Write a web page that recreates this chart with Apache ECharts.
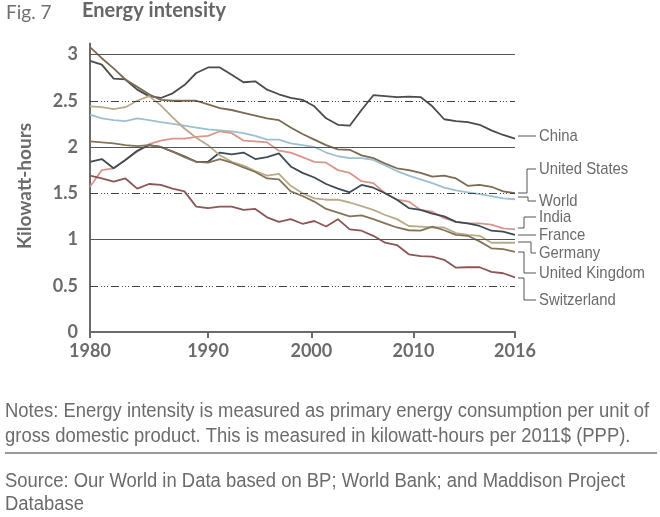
<!DOCTYPE html>
<html><head><meta charset="utf-8">
<script src="https://cdn.jsdelivr.net/npm/echarts@6/dist/echarts.min.js"></script>
<style>html,body{margin:0;padding:0;background:#fff}#c{width:660px;height:517px}</style>
</head><body><div id="c"></div>
<script>
const years = [1980,1981,1982,1983,1984,1985,1986,1987,1988,1989,1990,1991,1992,1993,1994,1995,1996,1997,1998,1999,2000,2001,2002,2003,2004,2005,2006,2007,2008,2009,2010,2011,2012,2013,2014,2015,2016];

const china = [2.93,2.89,2.74,2.73,2.62,2.55,2.53,2.58,2.67,2.80,2.86,2.86,2.78,2.70,2.71,2.62,2.57,2.53,2.51,2.44,2.31,2.24,2.23,2.40,2.56,2.55,2.54,2.545,2.54,2.44,2.30,2.28,2.27,2.24,2.18,2.13,2.09];
const unitedStates = [3.08,2.96,2.85,2.73,2.65,2.57,2.51,2.50,2.50,2.50,2.46,2.42,2.40,2.37,2.34,2.31,2.29,2.21,2.14,2.08,2.02,1.975,1.97,1.91,1.88,1.82,1.77,1.75,1.72,1.68,1.69,1.66,1.58,1.59,1.57,1.52,1.50];
const world = [2.35,2.31,2.29,2.28,2.31,2.29,2.27,2.25,2.23,2.21,2.19,2.18,2.17,2.15,2.12,2.08,2.08,2.04,2.02,2.00,1.94,1.90,1.88,1.88,1.86,1.80,1.74,1.69,1.65,1.61,1.56,1.53,1.51,1.49,1.47,1.445,1.435];
const india = [1.57,1.75,1.77,1.86,1.95,2.03,2.07,2.09,2.09,2.11,2.12,2.17,2.15,2.07,2.06,2.05,1.96,1.94,1.89,1.84,1.83,1.75,1.72,1.63,1.61,1.50,1.43,1.41,1.32,1.30,1.23,1.19,1.175,1.175,1.16,1.12,1.11];
const france = [1.84,1.87,1.77,1.86,1.96,2.02,2.00,1.95,1.90,1.84,1.84,1.94,1.92,1.94,1.87,1.89,1.93,1.79,1.72,1.67,1.60,1.55,1.51,1.59,1.56,1.50,1.43,1.34,1.32,1.28,1.25,1.19,1.175,1.146,1.095,1.085,1.05];
const germany = [2.44,2.43,2.41,2.43,2.50,2.55,2.45,2.32,2.20,2.10,2.02,1.91,1.84,1.80,1.74,1.69,1.71,1.58,1.50,1.445,1.43,1.43,1.40,1.36,1.32,1.265,1.22,1.146,1.14,1.13,1.13,1.07,1.05,1.04,0.965,0.965,0.965];
const unitedKingdom = [2.06,2.05,2.04,2.02,2.01,2.02,2.00,1.95,1.89,1.84,1.83,1.87,1.83,1.78,1.73,1.66,1.65,1.52,1.47,1.41,1.33,1.29,1.25,1.26,1.22,1.175,1.13,1.10,1.095,1.14,1.10,1.05,1.04,0.98,0.905,0.895,0.865];
const switzerland = [1.69,1.66,1.625,1.66,1.55,1.60,1.59,1.55,1.52,1.355,1.34,1.355,1.355,1.32,1.33,1.24,1.19,1.22,1.17,1.20,1.14,1.22,1.11,1.095,1.04,0.965,0.94,0.84,0.82,0.815,0.78,0.695,0.70,0.70,0.65,0.635,0.59];

const seriesNames = ['China','United States','World','India','France','Germany','United Kingdom','Switzerland'];
const seriesValues = [china, unitedStates, world, india, france, germany, unitedKingdom, switzerland];
const seriesColors = ['#4b4b4b','#7b6a52','#9dbfcf','#d9968b','#3e4b55','#b9aa8a','#857457','#8c5656'];

const yTickValues = [0,0.5,1,1.5,2,2.5,3];
const solidGridValues = [1,2,3];
const dashedGridValues = [0.5,1.5,2.5];
const xTickLabels = ['1980','1990','2000','2010','2016'];
// years at which the reference draws its x tick marks
const xTickYears = [1980,1990,1998.75,2007.4,2016];

// annotation layout (pixels)
const labelLayout = [
  {name:'China', ty:136, pts:[[518,136],[536,136]]},
  {name:'United States', ty:169, pts:[[518,193],[527,193],[527,169],[536,169]]},
  {name:'World', ty:201, pts:[[518,197],[528,197],[528,201],[536,201]]},
  {name:'India', ty:217, pts:[[518,228],[524,228],[524,217],[536,217]]},
  {name:'France', ty:235, pts:[[518,235],[536,235]]},
  {name:'Germany', ty:253, pts:[[518,242],[531,242],[531,253],[536,253]]},
  {name:'United Kingdom', ty:273, pts:[[518,252],[524,252],[524,273],[536,273]]},
  {name:'Switzerland', ty:300, pts:[[518,278],[524,278],[524,300],[536,300]]}
];

const chart = echarts.init(document.getElementById('c'), null, {renderer:'canvas'});
const gray = '#6b6b6b';
const sans = '"Liberation Sans", Arial, sans-serif';

const series = seriesNames.map((n,k)=>({
  name:n, type:'line', showSymbol:false, symbol:'none',
  data: years.map((y,i)=>[y, seriesValues[k][i]]),
  lineStyle:{color:seriesColors[k], width:1.8},
  itemStyle:{color:seriesColors[k]},
  z: 3, animation:false
}));
series.unshift({
  type:'line', data:[], animation:false, z:1,
  markLine:{
    silent:true, symbol:'none', label:{show:false}, animation:false,
    data: solidGridValues.map(v=>({yAxis:v, lineStyle:{type:'solid', color:'#555', width:1}}))
      .concat(dashedGridValues.map(v=>({yAxis:v, lineStyle:{type:[8,3,1,2,1,2,1,3], color:'#444', width:1}})))
  }
});

const noteScale = 0.945;
const graphics = [
  {type:'text', left:6, top:3, style:{text:'Fig. 7', font:'19px Lato', fill:'#707070'}},
  {type:'text', left:82, top:1, style:{text:'Energy intensity', font:'bold 20px Lato', fill:'#666'}},
  {type:'text', x:25, y:186, rotation:Math.PI/2, style:{text:'Kilowatt-hours', font:'bold 19px Lato', fill:gray, align:'center', verticalAlign:'middle'}},
  {type:'line', shape:{x1:5,y1:453,x2:657,y2:453}, style:{stroke:'#777', lineWidth:1.5}},
  {type:'text', x:5, y:412, scaleX:noteScale, style:{text:'Notes: Energy intensity is measured as primary energy consumption per unit of', font:'19.5px '+sans, fill:gray, verticalAlign:'middle'}},
  {type:'text', x:5, y:437, scaleX:noteScale, style:{text:'gross domestic product. This is measured in kilowatt-hours per 2011$ (PPP).', font:'19.5px '+sans, fill:gray, verticalAlign:'middle'}},
  {type:'text', x:5, y:482, scaleX:noteScale, style:{text:'Source: Our World in Data based on BP; World Bank; and Maddison Project', font:'19.5px '+sans, fill:gray, verticalAlign:'middle'}},
  {type:'text', x:5, y:505, scaleX:noteScale, style:{text:'Database', font:'19.5px '+sans, fill:gray, verticalAlign:'middle'}}
];
labelLayout.forEach(l=>{
  graphics.push({type:'polyline', shape:{points:l.pts}, style:{stroke:'#555', lineWidth:1, fill:null}});
  graphics.push({type:'text', x:539, y:l.ty, scaleX:0.875, style:{text:l.name, font:'17px '+sans, fill:gray, verticalAlign:'middle'}});
});

chart.setOption({
  animation:false,
  backgroundColor:'#fff',
  grid:{left:90, right:145, top:43.4, bottom:185, containLabel:false},
  xAxis:{
    type:'value', min:1980, max:2016,
    axisLine:{show:true, onZero:false, lineStyle:{color:gray, width:2}},
    axisTick:{show:true, length:6, inside:false, customValues:xTickYears, lineStyle:{color:gray, width:2}},
    axisLabel:{show:true, customValues:xTickYears, margin:10,
      formatter:(v)=>{let b=0;xTickYears.forEach((t,i)=>{if(Math.abs(t-v)<Math.abs(xTickYears[b]-v))b=i;});return xTickLabels[b];},
      color:gray, fontFamily:'Lato', fontWeight:'bold', fontSize:18},
    splitLine:{show:false}
  },
  yAxis:{
    type:'value', min:0, max:3.12,
    axisLine:{show:true, lineStyle:{color:gray, width:2}},
    axisTick:{show:false},
    axisLabel:{customValues:yTickValues, margin:12, color:gray, fontFamily:'Lato', fontWeight:'bold', fontSize:18},
    splitLine:{show:false}
  },
  series: series,
  graphic: graphics
});
</script></body></html>
